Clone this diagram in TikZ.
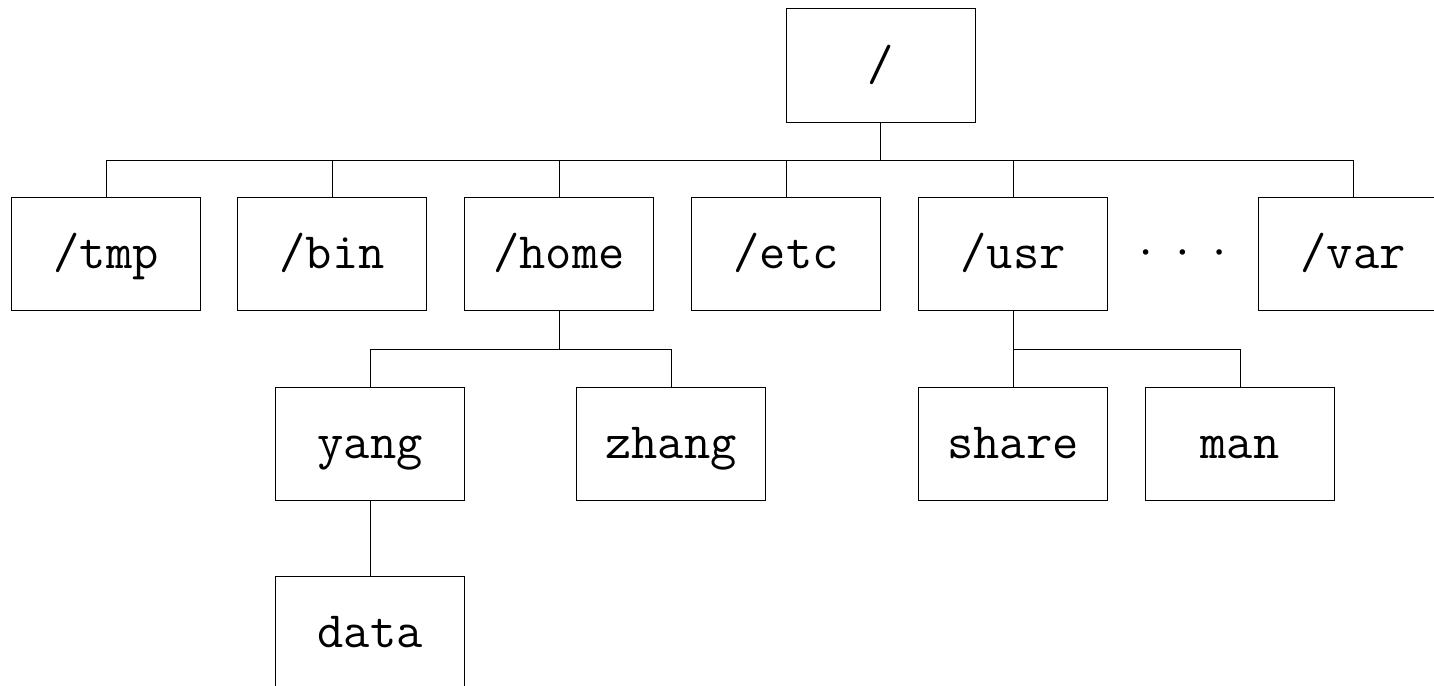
\documentclass[tikz,border=0pt]{standalone}
\usepackage{fontspec}
\newfontfamily\dotsfont{DejaVu Sans}
\begin{document}
\begin{tikzpicture}[x=1pt,y=-1pt,
  dirbox/.style={draw, line width=1pt, minimum width=189pt, minimum height=113pt,
    inner sep=0pt, text height=29pt, text depth=0pt,
    font=\fontsize{51}{60}\ttfamily},
  link/.style={line width=1pt}]
\useasboundingbox (0,0) rectangle (1434,685);
\clip (0,0) rectangle (1434,685);

% directory boxes
\node[dirbox] (root)  at (880.5,65.5) {/};
\node[dirbox] (tmp)   at (106,254)    {/tmp};
\node[dirbox] (bin)   at (332,254)    {/bin};
\node[dirbox] (home)  at (559,254)    {/home};
\node[dirbox] (etc)   at (786,254)    {/etc};
\node[dirbox] (usr)   at (1013,254)   {/usr};
\node[dirbox] (var)   at (1353,254)   {/var};
\node[font=\fontsize{19}{23}\dotsfont, inner sep=0pt] (more) at (1182.5,255)
  {•\hspace{25.5pt}•\hspace{25.5pt}•};
\node[dirbox] (yang)  at (370,443.5)  {yang};
\node[dirbox] (zhang) at (671,443.5)  {zhang};
\node[dirbox] (share) at (1013,443.5) {share};
\node[dirbox] (man)   at (1240,443.5) {man};
\node[dirbox] (data)  at (370,632.5)  {data};

% bus levels
\coordinate (bus1) at (0,160);
\coordinate (bus2) at (0,349);

% root -> second level
\draw[link] (root.south) -- (root.south |- bus1);
\draw[link] (tmp.north) |- (var.north |- bus1) -- (var.north);
\foreach \c in {bin,home,etc,usr}
  \draw[link] (\c.north) -- (\c.north |- bus1);

% /home -> users
\draw[link] (home.south) -- (home.south |- bus2);
\draw[link] (yang.north) |- (zhang.north |- bus2) -- (zhang.north);

% /usr -> subdirectories
\draw[link] (usr.south) -- (usr.south |- bus2);
\draw[link] (share.north) |- (man.north |- bus2) -- (man.north);

% yang -> data
\draw[link] (yang.south) -- (data.north);
\end{tikzpicture}
\end{document}
